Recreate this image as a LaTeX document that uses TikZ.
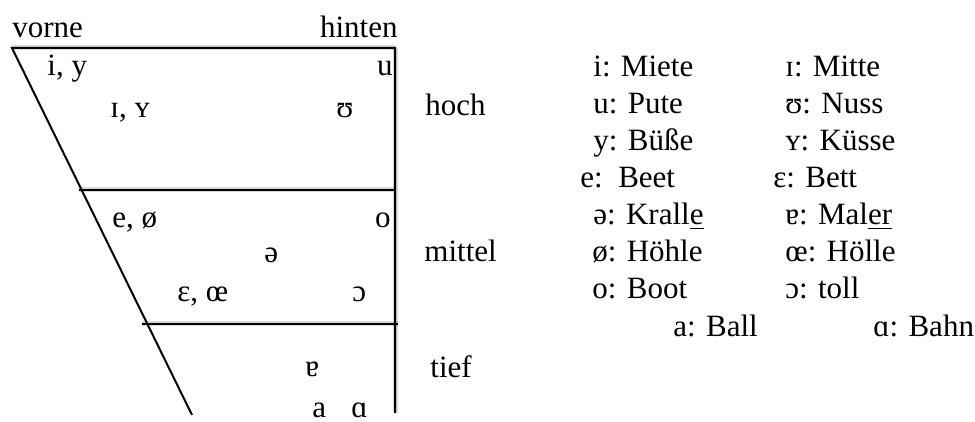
\documentclass[tikz,border=0pt]{standalone}
\usepackage{fontspec}
\setmainfont{Liberation Serif}
\usepackage{tikz}

\tikzset{
  txt/.style={anchor=base west, inner sep=0pt},
  txtr/.style={anchor=base east, inner sep=0pt},
  rand/.style={line width=1pt, black},
  schatten/.style={line width=2.5pt, black, opacity=0.05},
}

\begin{document}
\begin{tikzpicture}[x=0.5pt,y=-0.5pt,font=\fontsize{15.5}{18.6}\selectfont]
        \useasboundingbox (0,0) rectangle (975,422);
        % Viereck
        \coordinate (OL) at (12,48);
        \coordinate (OR) at (395,48);
        \coordinate (UR) at (395,413);
        \coordinate (UL) at (192,415);
        \coordinate (HL) at (79,190);
        \coordinate (HR) at (395,190);
        \coordinate (ML) at (142,324);
        \coordinate (MR) at (398,324);
        \foreach \s in {1.5,3,4.5}{
          \draw[schatten,yshift=-\s pt] (OL) -- (OR);
          \draw[schatten,yshift=-\s pt] (HL) -- (HR);
          \draw[schatten,yshift=-\s pt] (ML) -- (MR);
          \draw[schatten,xshift=\s pt] (OR) -- (UR);
        }
        \draw[rand] (UL) -- (OL) -- (OR) -- (UR);
        \draw[rand] (HL) -- (HR);
        \draw[rand] (ML) -- (MR);
        % Achsen
        \node[txt]  (vorne)  at (12,38) {vorne};
        \node[txtr] (hinten) at (398,38) {hinten};
        \node[txt] (hoch)   at (425,116) {hoch};
        \node[txt] (mittel) at (424,262) {mittel};
        \node[txt] (tief)   at (430,378) {tief};
        % Vokale
        \node[txt]  (iy)   at (47,76)   {i, y};
        \node[txtr] (u)    at (393,76)  {u};
        \node[txt]  (IY)   at (110,118) {ɪ, ʏ};
        \node[txt]  (U)    at (336,118) {ʊ};
        \node[txt]  (eoe)  at (112,228) {e, ø};
        \node[txtr] (o)    at (391,228) {o};
        \node[txt]  (schwa) at (264,263) {ə};
        \node[txt]  (EOE)  at (177,302) {ɛ, œ};
        \node[txt]  (O)    at (352,302) {ɔ};
        \node[txt]  (vr)   at (305,377) {ɐ};
        \node[txt]  (a)    at (312,417) {a};
        \node[txt]  (A)    at (351,417) {ɑ};
        % Beispiele
        \node[txt] (b1)  at (593,77)  {i: Miete};
        \node[txt] (b2)  at (785,77)  {ɪ: Mitte};
        \node[txt] (b3)  at (593,114) {u: Pute};
        \node[txt] (b4)  at (785,114) {ʊ: Nuss};
        \node[txt] (b5)  at (593,151) {y: Büße};
        \node[txt] (b6)  at (785,151) {ʏ: Küsse};
        \node[txt] (b7)  at (580,188) {e:\ \ Beet};
        \node[txt] (b8)  at (773,188) {ɛ: Bett};
        \node[txt] (b9)  at (593,225) {ə: Krall\underline{e}};
        \node[txt] (b10) at (785,225) {ɐ: Mal\underline{er}};
        \node[txt] (b11) at (592,262) {ø: Höhle};
        \node[txt] (b12) at (785,262) {œ: Hölle};
        \node[txt] (b13) at (592,299) {o: Boot};
        \node[txt] (b14) at (785,299) {ɔ: toll};
        \node[txt] (b15) at (673,336) {a: Ball};
        \node[txt] (b16) at (873,336) {ɑ: Bahn};
    \end{tikzpicture}
\end{document}
